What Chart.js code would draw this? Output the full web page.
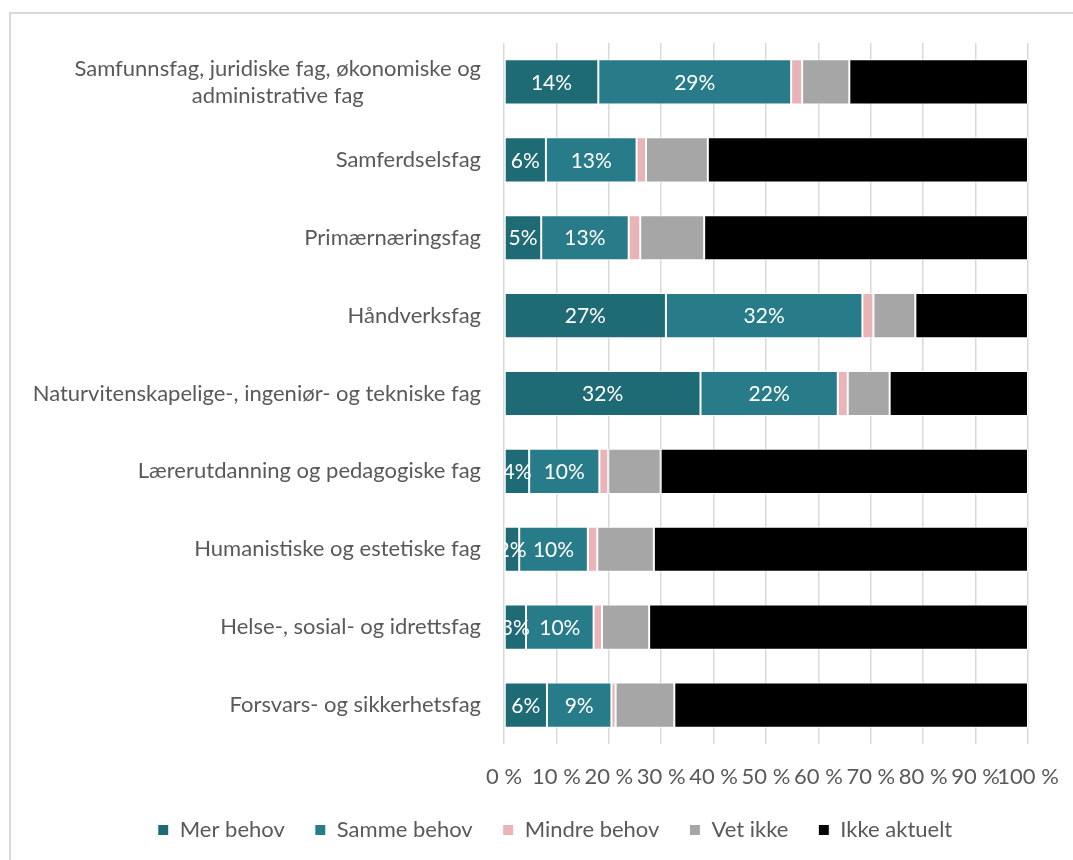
<!DOCTYPE html>
<html>
<head>
<meta charset="utf-8">
<script src="https://cdn.jsdelivr.net/npm/chart.js@4.4.1/dist/chart.umd.min.js"></script>
<style>
html,body{margin:0;padding:0;background:#fff;}
#wrap{position:relative;width:1073px;height:860px;}
</style>
</head>
<body>
<div id="wrap"><canvas id="c" width="1073" height="860"></canvas></div>
<script>
const categories = [
  ["Samfunnsfag, juridiske fag, økonomiske og", "administrative fag"],
  "Samferdselsfag",
  "Primærnæringsfag",
  "Håndverksfag",
  "Naturvitenskapelige-, ingeniør- og tekniske fag",
  "Lærerutdanning og pedagogiske fag",
  "Humanistiske og estetiske fag",
  "Helse-, sosial- og idrettsfag",
  "Forsvars- og sikkerhetsfag"
];
const merBehov    = [18.0, 8.0, 7.1, 30.9, 37.5, 4.8, 2.9, 4.2, 8.2];
const sammeBehov  = [36.8, 17.3, 16.7, 37.5, 26.2, 13.4, 13.1, 12.9, 12.3];
const mindreBehov = [2.1, 1.8, 2.2, 2.1, 1.9, 1.7, 1.8, 1.6, 0.8];
const vetIkke     = [9.0, 11.8, 12.2, 8.0, 8.0, 10.0, 10.8, 9.0, 11.2];
const ikkeAktuelt = [34.1, 61.1, 61.8, 21.5, 26.4, 70.1, 71.4, 72.3, 67.5];
const merLabels   = ["14%", "6%", "5%", "27%", "32%", "4%", "2%", "3%", "6%"];
const sammeLabels = ["29%", "13%", "13%", "32%", "22%", "10%", "10%", "10%", "9%"];
const seriesNames = ["Mer behov", "Samme behov", "Mindre behov", "Vet ikke", "Ikke aktuelt"];
const xTicks = [0, 10, 20, 30, 40, 50, 60, 70, 80, 90, 100];

const FONT = "Lato, 'Open Sans', sans-serif";
const colors = ["#1F6B75", "#287C8A", "#E8B4B8", "#A6A6A6", "#000000"];
const values = [merBehov, sammeBehov, mindreBehov, vetIkke, ikkeAktuelt];
const barLabels = [merLabels, sammeLabels, null, null, null];

const AXIS_LEFT = 504;
const LABEL_RIGHT = 481;
const PAD_LEFT = 82;

const frame = {
  id: 'frame',
  beforeDraw(chart) {
    const ctx = chart.ctx;
    ctx.save();
    ctx.strokeStyle = '#D9D9D9';
    ctx.lineWidth = 2;
    ctx.beginPath();
    ctx.moveTo(10, 860);
    ctx.lineTo(10, 13);
    ctx.lineTo(1073, 13);
    ctx.stroke();
    ctx.restore();
  }
};

const yLabels = {
  id: 'yLabels',
  afterDraw(chart) {
    const ctx = chart.ctx;
    const ys = chart.scales.y;
    ctx.save();
    ctx.font = "22px " + FONT;
    ctx.fillStyle = '#595959';
    ctx.textBaseline = 'middle';
    ctx.textAlign = 'center';
    const lh = 27;
    categories.forEach((lab, i) => {
      const lines = Array.isArray(lab) ? lab : [lab];
      const w = Math.max(...lines.map(l => ctx.measureText(l).width));
      const cx = LABEL_RIGHT - w / 2;
      const cy = ys.getPixelForValue(i);
      const y0 = cy - (lines.length - 1) * lh / 2;
      lines.forEach((l, k) => ctx.fillText(l, cx, y0 + k * lh));
    });
    ctx.restore();
  }
};

const dataLabels = {
  id: 'dataLabels',
  afterDatasetsDraw(chart) {
    const ctx = chart.ctx;
    const a = chart.chartArea;
    ctx.save();
    ctx.beginPath();
    ctx.rect(a.left, a.top, a.right - a.left, a.bottom - a.top);
    ctx.clip();
    ctx.font = "21px " + FONT;
    ctx.fillStyle = '#FFFFFF';
    ctx.textAlign = 'center';
    ctx.textBaseline = 'middle';
    chart.data.datasets.forEach((ds, di) => {
      const labs = barLabels[di];
      if (!labs) return;
      chart.getDatasetMeta(di).data.forEach((bar, i) => {
        const cx = (bar.x + bar.base) / 2;
        ctx.fillText(labs[i], cx, bar.y + 1);
      });
    });
    ctx.restore();
  }
};

new Chart(document.getElementById('c'), {
  type: 'bar',
  data: {
    labels: categories,
    datasets: seriesNames.map((n, i) => ({
      label: n,
      data: values[i],
      backgroundColor: colors[i],
      borderColor: '#FFFFFF',
      borderWidth: 1,
      borderSkipped: false,
      categoryPercentage: 1,
      barPercentage: 0.58
    }))
  },
  options: {
    indexAxis: 'y',
    responsive: false,
    animation: false,
    devicePixelRatio: 1,
    layout: { padding: { top: 43, left: PAD_LEFT, right: 45, bottom: 9 } },
    scales: {
      x: {
        stacked: true,
        min: 0, max: 100,
        afterBuildTicks(scale) { scale.ticks = xTicks.map(v => ({ value: v })); },
        ticks: {
          callback: v => v + ' %',
          color: '#595959',
          font: { family: FONT, size: 22 },
          padding: 20,
          maxRotation: 0,
          autoSkip: false
        },
        grid: { color: '#D9D9D9', lineWidth: 1.5, drawTicks: false },
        border: { display: false },
        afterFit(scale) { scale.height = 45; scale.paddingLeft = 0; scale.paddingRight = 0; }
      },
      y: {
        stacked: true,
        ticks: { display: false },
        grid: { display: false },
        border: { display: false },
        afterFit(scale) { scale.width = AXIS_LEFT - PAD_LEFT; }
      }
    },
    plugins: {
      legend: {
        position: 'bottom',
        labels: {
          color: '#595959',
          font: { family: FONT, size: 22 },
          boxWidth: 11,
          boxHeight: 11,
          padding: 30
        }
      },
      tooltip: { enabled: false }
    }
  },
  plugins: [frame, yLabels, dataLabels]
});
</script>
</body>
</html>
